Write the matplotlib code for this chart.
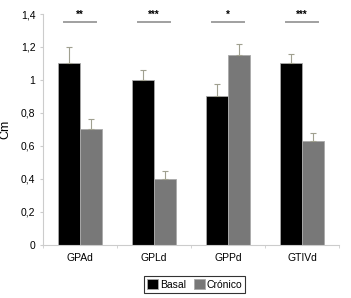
import matplotlib
matplotlib.use("Agg")
import matplotlib.pyplot as plt
import numpy as np

categories = ["GPAd", "GPLd", "GPPd", "GTIVd"]
basal = [1.10, 1.00, 0.90, 1.10]
basal_err = [0.10, 0.06, 0.075, 0.055]
cronico = [0.70, 0.40, 1.15, 0.63]
cronico_err = [0.065, 0.05, 0.07, 0.05]
stars = ["**", "***", "*", "***"]
yticks = [0, 0.2, 0.4, 0.6, 0.8, 1, 1.2, 1.4]
ytick_labels = ["0", "0,2", "0,4", "0,6", "0,8", "1", "1,2", "1,4"]

plt.rcParams['font.family'] = ['Liberation Sans', 'DejaVu Sans']

fig = plt.figure(figsize=(3.51, 2.98), dpi=100)
ax = fig.add_axes([0.1225, 0.178, 0.8435, 0.775])

x = np.arange(len(categories))
w = 0.3
errc = "#a0a090"
ax.bar(x - w/2, basal, w, color="black", edgecolor="#aaaaaa", linewidth=0.6,
       yerr=[np.zeros(4), basal_err], error_kw=dict(ecolor=errc, capsize=2.5, elinewidth=0.8, capthick=0.8),
       label="Basal")
ax.bar(x + w/2, cronico, w, color="#787878", edgecolor="#aaaaaa", linewidth=0.6,
       yerr=[np.zeros(4), cronico_err], error_kw=dict(ecolor=errc, capsize=2.5, elinewidth=0.8, capthick=0.8),
       label="Crónico")

for i, s in enumerate(stars):
    ax.plot([x[i] - 0.22, x[i] + 0.22], [1.352, 1.352], color="#a0a0a0", lw=1.4)
    ax.text(x[i], 1.365, s, ha="center", va="bottom", fontsize=7, fontweight="bold")

ax.set_xlim(-0.5, 3.5)
ax.set_ylim(0, 1.4)
ax.set_yticks(yticks)
ax.set_yticklabels(ytick_labels, fontsize=7.5)
ax.set_xticks(x)
ax.set_xticklabels(categories, fontsize=7.5)
ax.set_xticks(np.arange(-0.5, 4, 1), minor=True)
ax.tick_params(axis="x", which="major", length=0, pad=6)
ax.tick_params(axis="x", which="minor", length=2, color="#cccccc")
ax.tick_params(axis="y", length=2, color="#cccccc")
for sp in ["top", "right"]:
    ax.spines[sp].set_visible(False)
for sp in ["left", "bottom"]:
    ax.spines[sp].set_color("#cccccc")
    ax.spines[sp].set_linewidth(0.8)
ax.set_ylabel("Cm", fontsize=9, labelpad=7)

leg = fig.legend(loc="center", bbox_to_anchor=(0.555, 0.045), ncol=2, fontsize=7.5,
                 frameon=True, fancybox=False, edgecolor="black", handlelength=1.0,
                 handleheight=1.0, handletextpad=0.2, columnspacing=0.8, borderpad=0.3)
leg.get_frame().set_linewidth(0.8)

fig.savefig("out.png", dpi=100)
